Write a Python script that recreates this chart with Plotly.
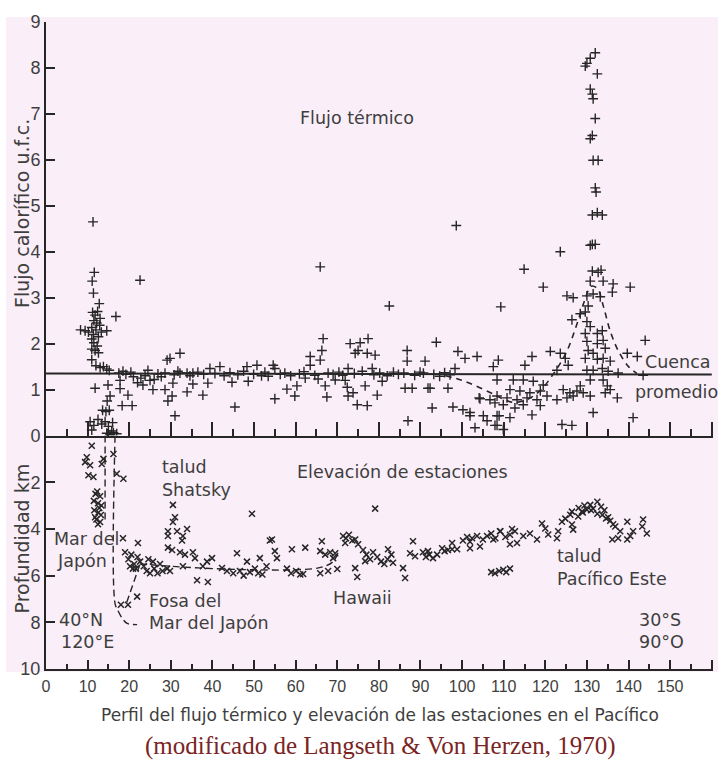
import plotly.graph_objects as go

# ---------------- DATA ----------------
# Heat-flow stations (+): distance along profile (x) and heat flow (u.f.c.)
hf_x = [11.3, 11.6, 11.1, 11.4, 12.8, 16.8, 22.6,
        11.2, 11.8, 12.4, 13.0, 11.5, 12.2, 12.9, 11.0, 12.0, 13.3, 11.4, 12.6,
        8.3, 9.4, 10.2, 14.6, 11.0, 11.5, 12.3, 11.0, 11.8, 12.6, 11.0,
        12.0, 13.0, 13.8, 14.6, 15.2, 11.8, 14.9, 15.4, 14.7, 13.6, 14.4, 15.2,
        10.6, 11.5, 12.5, 13.4, 14.2, 15.0, 16.0, 11.0, 14.6, 15.4, 16.2, 17.0, 15.8,
        18.5, 17.8, 17.8, 19.7, 18.3, 20.7, 21.0, 22.0, 22.8, 23.3,
        24.5, 25.0, 26.0, 25.7, 29.1, 29.8, 32.2, 28.6, 28.6, 29.3, 30.3, 31.0, 30.5,
        32.2, 33.9, 33.9, 35.3, 35.3, 37.7, 38.9, 39.4, 41.8,
        44.7, 45.4, 48.6, 48.3, 50.7, 53.4, 54.6, 55.0, 55.0,
        57.9, 60.3, 59.8, 62.3, 63.5, 63.5, 65.9, 66.3, 66.6, 65.9,
        65.4, 67.1, 67.5, 69.5, 71.9, 72.4, 73.1, 75.5, 77.4,
        74.3, 75.0, 77.2, 79.1, 72.6, 78.4, 72.6, 73.8, 74.8, 77.2,
        76.7, 79.6, 80.8, 82.5, 86.8, 86.8, 86.3, 88.0, 87.0,
        91.1, 91.8, 92.3, 92.8, 93.8, 96.6, 97.8, 99.0, 98.6,
        100.7, 103.6, 104.3, 103.1, 98.3, 100.2, 101.9, 101.9, 104.1,
        105.1, 106.7, 107.9, 108.9, 108.4, 109.9, 106.0, 108.7, 107.5, 109.3,
        130.8, 123.6, 114.9, 119.5, 131.3, 132.7, 133.4,
        130.8, 133.9, 136.3, 136.1, 140.4, 125.2, 126.7, 130.0, 131.5, 133.2,
        130.3, 129.6, 128.4, 126.4, 130.0, 130.8, 129.6, 132.5, 133.7, 130.0, 132.5, 133.9, 134.4,
        130.3, 131.5, 129.6, 132.5, 133.9, 135.6, 144.0, 139.7, 142.1,
        121.2, 123.6, 124.8, 125.5, 116.8, 115.1, 122.8, 131.5, 133.7, 135.1, 137.5, 143.5, 130.0,
        108.4, 112.3, 114.7, 117.1, 119.5, 111.5, 113.9, 116.3, 118.8,
        108.4, 110.8, 113.2, 115.6, 118.0, 120.4, 109.9, 112.7, 114.7, 118.8, 116.8,
        108.4, 111.5, 107.9,
        124.3, 125.9, 127.6, 122.8, 125.2, 126.7, 129.1, 130.8, 131.5,
        128.4, 130.8, 133.9, 134.9, 134.4, 135.6, 137.3, 141.1, 124.0, 126.4,
        132.0, 130.8, 130.0, 129.6, 132.5, 130.8, 131.3, 131.5,
        132.0, 131.3, 130.8, 131.5, 132.7, 132.0, 132.2, 131.3, 132.5, 133.7, 131.3, 132.0,
        17.5, 19.2, 20.4, 23.8, 26.9, 27.7, 30.8, 31.7, 34.6, 36.5, 37.9, 40.6, 42.8,
        44.2, 46.1, 47.5, 49.9, 51.8, 52.6, 56.3, 57.4, 58.8, 60.9, 62.0, 64.6, 67.8,
        69.0, 70.4, 71.3, 74.1, 76.0, 78.8, 80.2, 82.0, 83.5, 84.7, 86.0, 88.6, 89.9,
        90.7, 93.2, 94.6, 95.8, 97.1]
hf_v = [4.65, 3.55, 3.36, 3.10, 2.87, 2.59, 3.38,
        2.68, 2.62, 2.70, 2.55, 2.50, 2.45, 2.40, 2.35, 2.30, 2.25, 2.20, 2.15,
        2.30, 2.28, 2.25, 2.28, 2.10, 2.02, 1.95, 1.88, 1.85, 1.80, 1.65,
        1.52, 1.48, 1.50, 1.45, 1.42, 1.03, 1.10, 0.86, 0.75, 0.55, 0.52, 0.55,
        0.30, 0.22, 0.35, 0.25, 0.30, 0.20, 0.28, 0.12, 0.05, 0.02, 0.06, 0.04, 0.10,
        1.40, 1.20, 1.02, 0.88, 0.65, 0.65, 1.28, 1.15, 1.25, 1.10,
        1.42, 1.20, 1.22, 1.00, 1.64, 1.68, 1.79, 1.36, 1.00, 0.75, 0.86, 0.43, 1.14,
        1.36, 1.36, 0.95, 1.12, 1.36, 0.88, 1.14, 1.46, 1.50,
        1.16, 0.62, 1.18, 1.50, 1.53, 1.29, 1.53, 0.80, 1.46,
        1.01, 1.08, 0.86, 1.25, 1.72, 1.53, 1.64, 1.85, 2.11, 3.67,
        1.23, 1.08, 0.84, 1.21, 1.20, 1.05, 2.00, 2.02, 2.11,
        1.79, 1.85, 1.79, 1.75, 1.46, 1.46, 0.86, 0.93, 0.67, 0.65,
        1.08, 0.88, 1.18, 2.82, 1.85, 1.62, 1.03, 1.03, 0.32,
        1.62, 1.03, 1.03, 0.60, 2.03, 1.03, 0.62, 1.83, 4.57,
        1.68, 1.72, 0.80, 0.17, 1.46, 0.56, 0.50, 0.43, 0.82,
        0.43, 0.78, 0.71, 0.43, 0.22, 0.13, 0.32, 1.64, 1.50, 2.80,
        4.14, 4.00, 3.62, 3.23, 3.58, 3.55, 3.60,
        3.36, 3.36, 3.30, 3.12, 3.23, 3.04, 3.00, 3.04, 3.08, 3.02,
        2.82, 2.69, 2.65, 2.52, 2.48, 2.37, 2.22, 2.22, 2.28, 2.05, 2.00, 2.07, 1.90,
        1.85, 1.79, 1.68, 1.66, 1.68, 1.62, 2.07, 1.79, 1.72,
        1.83, 1.79, 1.68, 1.53, 1.72, 1.53, 1.42, 1.42, 1.46, 1.40, 1.36, 1.31, 1.42,
        1.21, 1.21, 1.21, 1.18, 1.10, 1.00, 0.97, 0.93, 0.97,
        0.86, 0.82, 0.78, 0.82, 0.78, 0.86, 0.67, 0.60, 0.67, 0.65, 0.45,
        0.43, 0.39, 0.22,
        1.00, 0.93, 0.97, 0.78, 0.82, 0.86, 0.93, 0.86, 0.50,
        1.08, 1.21, 1.21, 1.08, 0.93, 1.00, 0.82, 0.39, 0.24, 0.22,
        8.33, 8.21, 8.10, 8.04, 7.87, 7.54, 7.43, 7.33,
        6.90, 6.53, 6.46, 5.99, 5.99, 5.39, 5.30, 4.80, 4.85, 4.80, 4.16, 4.16,
        1.36, 1.33, 1.38, 1.30, 1.34, 1.28, 1.32, 1.40, 1.30, 1.38, 1.33, 1.35, 1.30,
        1.37, 1.32, 1.40, 1.33, 1.30, 1.38, 1.33, 1.36, 1.30, 1.34, 1.39, 1.31, 1.36,
        1.33, 1.38, 1.31, 1.35, 1.40, 1.32, 1.36, 1.30, 1.38, 1.33, 1.36, 1.31, 1.38,
        1.36, 1.33, 1.29, 1.37, 1.32]

# Station depths (x): distance along profile and depth (km)
dp_x = [11.0, 9.8, 9.4, 10.6, 10.2, 11.4, 13.4, 13.8, 16.2, 17.0, 18.6,
        12.3, 13.0, 11.5, 12.5, 13.3, 11.6, 12.6, 13.2, 12.1, 13.0, 12.5, 11.9, 12.8, 11.8,
        18.5, 19.0, 19.8, 20.5, 21.2, 22.0, 22.6, 20.2, 21.6, 22.1, 20.9,
        25.7, 27.4, 29.1, 23.5, 24.2, 25.0, 26.0, 26.8, 28.0, 29.8, 24.6,
        30.5, 31.0, 30.5, 29.3, 29.3, 31.5, 33.9, 32.9, 32.7, 30.3, 29.3, 32.2, 33.4,
        35.3, 35.8, 32.9, 36.3, 38.9, 37.7, 39.9, 38.7, 42.3, 45.9, 45.0, 46.6, 48.3,
        49.5, 50.2, 51.0, 51.4, 53.8, 55.0, 43.5, 47.5, 52.0, 53.0, 49.0,
        79.1, 54.3, 55.5, 59.1, 62.3, 66.3, 65.9, 67.1, 68.3,
        57.9, 58.9, 60.1, 61.1, 61.8, 65.9, 67.8, 70.0, 69.0, 69.5,
        71.4, 72.1, 72.8, 73.6, 74.3, 75.0, 71.9, 74.3, 74.8,
        76.2, 77.0, 77.9, 78.6, 76.7, 79.6, 80.5, 81.3, 82.1, 83.0, 83.4, 82.2,
        85.8, 86.3, 88.2, 87.5, 88.7, 90.6, 91.3, 92.1, 93.0, 91.8, 95.2,
        97.6, 98.8, 97.6, 94.0, 95.8, 96.6,
        100.2, 101.2, 102.4, 103.6, 101.9, 101.9, 104.3,
        105.0, 106.0, 107.0, 108.0, 109.2, 110.4, 111.5,
        107.0, 107.9, 108.9, 109.9, 110.6, 111.5,
        107.5, 109.1, 111.5, 113.2, 112.0, 112.7, 114.7, 116.3, 118.0, 119.2, 120.0, 120.7,
        122.8, 123.1, 124.0, 124.8, 126.0, 126.4, 126.7, 126.4, 127.9,
        130.8, 132.5, 130.0, 132.5, 131.5, 128.8, 128.0, 129.4, 131.0, 133.4, 134.2, 129.0,
        133.7, 134.6, 135.6, 136.3, 135.1, 136.8, 138.0, 137.5, 139.7, 136.1, 139.7,
        140.4, 141.1, 143.5, 143.3, 144.4,
        18.0, 19.7, 21.9]
dp_d = [0.44, 0.93, 1.14, 1.27, 1.70, 1.78, 1.22, 1.00, 0.79, 1.64, 1.85,
        2.4, 2.6, 2.8, 2.9, 3.0, 3.2, 3.3, 3.4, 3.6, 3.7, 3.8, 2.5, 3.1, 3.5,
        4.4, 5.0, 5.3, 5.1, 5.5, 5.2, 5.4, 5.6, 5.7, 4.6, 5.7,
        5.4, 5.5, 5.7, 5.6, 5.8, 5.9, 5.7, 5.9, 5.8, 5.8, 5.3,
        2.97, 3.5, 3.7, 4.1, 4.3, 4.1, 4.0, 4.3, 4.5, 4.9, 4.8, 5.0, 5.1,
        5.0, 5.25, 5.6, 6.2, 6.27, 5.6, 5.25, 5.4, 5.67, 5.04, 5.9, 5.8, 5.4,
        3.35, 5.7, 5.9, 5.25, 4.5, 4.95, 5.8, 6.0, 5.95, 5.6, 5.85,
        3.13, 4.45, 5.25, 4.87, 4.8, 4.53, 4.95, 5.1, 5.0,
        5.7, 5.9, 5.8, 5.95, 5.93, 5.9, 5.8, 5.72, 5.25, 5.04,
        4.3, 4.4, 4.25, 4.5, 4.45, 4.66, 4.6, 5.68, 6.06,
        4.9, 5.1, 5.3, 5.0, 5.38, 5.2, 5.4, 5.5, 5.3, 5.1, 5.45, 4.87,
        5.68, 6.1, 4.53, 5.04, 5.17, 5.0, 5.2, 5.1, 5.25, 4.95, 4.83,
        4.6, 4.87, 4.87, 5.1, 4.95, 4.9,
        4.5, 4.35, 4.4, 4.3, 4.55, 4.83, 4.75,
        4.45, 4.3, 4.2, 4.4, 4.1, 4.35, 4.25,
        5.85, 5.9, 5.8, 5.75, 5.85, 5.7,
        4.45, 4.1, 4.66, 4.6, 4.0, 4.1, 4.3, 4.2, 4.45, 3.77, 3.98, 4.24,
        4.4, 4.1, 3.69, 3.56, 3.39, 3.81, 4.03, 3.26, 3.47,
        2.97, 2.84, 3.18, 3.35, 3.13, 3.26, 3.1, 3.0, 3.2, 3.05, 3.2, 3.3,
        3.4, 3.55, 3.65, 3.8, 3.5, 3.9, 4.1, 4.4, 3.69, 4.45, 4.45,
        4.3, 4.1, 3.6, 3.9, 4.2,
        7.25, 7.25, 6.9]

# Basin average heat flow (solid line)
avg_x = [0, 160]
avg_v = [1.35, 1.33]

# Dashed trend of heat flow over the East Pacific Rise
trend_x = [96, 100, 104, 108, 111, 113, 116, 119, 122, 125, 127.5, 129.5, 131, 132.5, 134, 135.5, 137.5, 140, 142]
trend_v = [1.30, 1.20, 1.05, 0.88, 0.75, 0.72, 0.80, 1.00, 1.35, 1.80, 2.40, 2.95, 3.25, 3.20, 2.80, 2.30, 1.85, 1.50, 1.35]

# Dashed lines in the depth section (Japan trench)
trenchA_x = [14.2, 14.2]
trenchA_d = [0.0, 3.7]
trenchB_x = [16.6, 16.6, 17.3, 18.4, 19.5, 21.9]
trenchB_d = [0.0, 7.2, 7.5, 7.85, 8.05, 8.1]
slope_x = [19.4, 22.6]
slope_d = [7.15, 5.5]
prof_x = [22.6, 30, 40, 50, 60, 66, 69, 70.2]
prof_d = [5.5, 5.6, 5.7, 5.75, 5.75, 5.65, 5.4, 5.0]

x_ticks = [0, 10, 20, 30, 40, 50, 60, 70, 80, 90, 100, 110, 120, 130, 140, 150, 160]
x_ticktext = ["0", "10", "20", "30", "40", "50", "60", "70", "80", "90", "100",
              "110", "120", "130", "140", "150", ""]
hf_ticks = [0, 1, 2, 3, 4, 5, 6, 7, 8, 9]
dp_ticks = [2, 4, 6, 8, 10]

# ---------------- FIGURE ----------------
INK = "#262626"
TXT = "#3e3e3e"
PINK = "#faeef8"
FONT = "DejaVu Sans"

W, H = 726, 760
L, R, T, B = 46, 13, 15, 91
PW, PH = W - L - R, H - T - B
ZERO_PY = 433
split = (H - B - ZERO_PY) / PH


def pxp(px):
    return (px - L) / PW


def pyp(py):
    return (H - B - py) / PH


fig = go.Figure()

fig.add_trace(go.Scatter(x=avg_x, y=avg_v, mode="lines", xaxis="x2", yaxis="y",
                         line=dict(color=INK, width=2), hoverinfo="skip"))
fig.add_trace(go.Scatter(x=trend_x, y=trend_v, mode="lines", xaxis="x2", yaxis="y",
                         line=dict(color=INK, width=1.6, dash="6px,5px", shape="spline"),
                         hoverinfo="skip"))
fig.add_trace(go.Scatter(x=hf_x, y=hf_v, mode="markers", xaxis="x2", yaxis="y",
                         marker=dict(symbol="cross-thin", size=7,
                                     line=dict(color=INK, width=1.4))))

for xs, ds in [(trenchA_x, trenchA_d), (trenchB_x, trenchB_d), (slope_x, slope_d), (prof_x, prof_d)]:
    fig.add_trace(go.Scatter(x=xs, y=ds, mode="lines", xaxis="x", yaxis="y2",
                             line=dict(color=INK, width=1.4, dash="7px,4px", shape="spline"),
                             hoverinfo="skip"))
fig.add_trace(go.Scatter(x=dp_x, y=dp_d, mode="markers", xaxis="x", yaxis="y2",
                         marker=dict(symbol="x-thin", size=6,
                                     line=dict(color=INK, width=1.5))))

tickfont = dict(family="Liberation Sans", size=16, color=TXT)

fig.update_layout(
    width=W, height=H, autosize=False,
    margin=dict(l=L, r=R, t=T, b=B),
    paper_bgcolor="white", plot_bgcolor=PINK,
    showlegend=False,
    xaxis=dict(domain=[0, 1], range=[0, 160.3], anchor="y2",
               tickmode="array", tickvals=x_ticks, ticktext=x_ticktext,
               ticks="inside", ticklen=9, tickwidth=2, tickcolor=INK,
               minor=dict(dtick=5, tick0=0, ticks="inside", ticklen=5, tickwidth=1.5, tickcolor=INK),
               showline=True, linecolor=INK, linewidth=2,
               showgrid=False, zeroline=False, tickfont=tickfont, ticklabelstandoff=2),
    xaxis2=dict(domain=[0, 1], range=[0, 160.3], anchor="y", matches="x",
                tickmode="array", tickvals=x_ticks, showticklabels=False,
                ticks="inside", ticklen=14, tickwidth=2, tickcolor=INK,
                minor=dict(dtick=5, tick0=0, ticks="inside", ticklen=7, tickwidth=1.5, tickcolor=INK),
                showline=True, linecolor=INK, linewidth=2,
                showgrid=False, zeroline=False),
    yaxis=dict(domain=[split, 1], range=[0, 9], anchor="x",
               tickmode="array", tickvals=hf_ticks,
               ticks="inside", ticklen=9, tickwidth=2, tickcolor=INK,
               showline=True, linecolor=INK, linewidth=2,
               showgrid=False, zeroline=False, tickfont=dict(family="Liberation Sans", size=18, color=TXT)),
    yaxis2=dict(domain=[0, split], range=[10, 0], anchor="x",
                tickmode="array", tickvals=dp_ticks,
                ticks="inside", ticklen=9, tickwidth=2, tickcolor=INK,
                showline=True, linecolor=INK, linewidth=2,
                showgrid=False, zeroline=False, tickfont=dict(family="Liberation Sans", size=18, color=TXT)),
)

# pink paper of the scanned page
fig.add_shape(type="rect", xref="paper", yref="paper",
              x0=pxp(6), x1=pxp(718), y0=pyp(672), y1=pyp(10),
              fillcolor=PINK, line=dict(width=0), layer="below")


def note(text, px, py, size=17.5, xanchor="center", angle=0, color=TXT, family=FONT):
    fig.add_annotation(text=text, xref="paper", yref="paper", x=pxp(px), y=pyp(py),
                       xanchor=xanchor, yanchor="middle", showarrow=False, textangle=angle,
                       font=dict(family=family, size=size, color=color))


note("Flujo calorífico u.f.c.", 22, 209, size=19, angle=-90)
note("Profundidad km", 22, 537, size=19, angle=-90)
note("Flujo térmico", 357, 112)
note("Cuenca", 643, 359, xanchor="left")
note("promedio", 633, 389, xanchor="left")
note("Elevación de estaciones", 403, 470)
note("talud", 160, 465, xanchor="left")
note("Shatsky", 160, 488, xanchor="left")
note("Mar del", 52, 538, xanchor="left")
note("Japón", 55, 560, xanchor="left")
note("Fosa del", 147, 600, xanchor="left")
note("Mar del Japón", 147, 622, xanchor="left")
note("40°N", 57, 619, xanchor="left")
note("120°E", 59, 642, xanchor="left")
note("Hawaii", 362, 597)
note("talud", 555, 555, xanchor="left")
note("Pacífico Este", 555, 578, xanchor="left")
note("30°S", 637, 619, xanchor="left")
note("90°O", 637, 642, xanchor="left")
note("Perfil del flujo térmico y elevación de las estaciones en el Pacífico", 380, 716, size=17)
note("(modificado de Langseth &amp; Von Herzen, 1970)", 380, 747, size=25,
     color="#7a2424", family="Liberation Serif")

fig.write_html("out.html")
